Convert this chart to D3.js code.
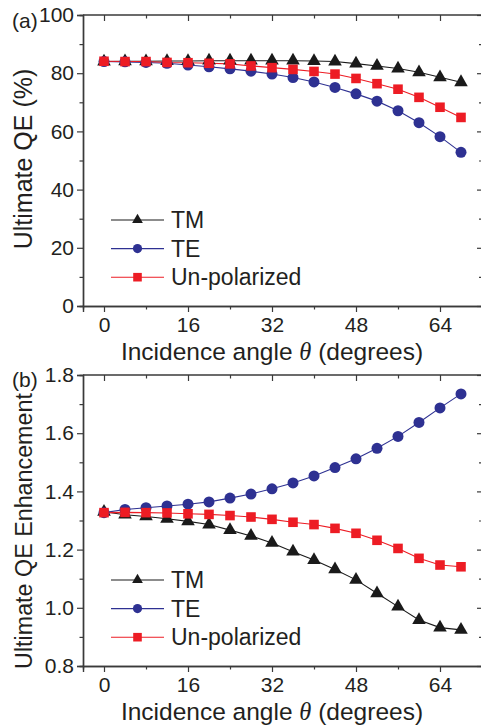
<!DOCTYPE html>
<html><head><meta charset="utf-8">
<script src="https://cdn.jsdelivr.net/npm/d3@7"></script>
<style>
html,body{margin:0;padding:0;background:#fff;}
svg{display:block;}
text{font-family:"Liberation Sans",Arial,sans-serif;fill:#231f20;}
</style></head>
<body>
<svg id="chart" width="481" height="726"></svg>
<script>
const angles = [0,4,8,12,16,20,24,28,32,36,40,44,48,52,56,60,64,68];
const qeTM = [84.0,84.1,84.1,84.2,84.2,84.3,84.3,84.3,84.3,84.3,84.2,84.0,83.3,82.5,81.6,80.3,78.6,76.9];
const qeTE = [84.0,83.9,83.7,83.4,82.8,82.2,81.5,80.7,79.7,78.5,77.0,75.1,72.9,70.4,67.1,63.0,58.2,52.8];
const qeUP = [84.1,84.0,84.0,83.7,83.6,83.4,83.2,82.5,81.9,81.3,80.6,79.7,78.2,76.4,74.5,71.7,68.3,64.8];
const enhTM = [1.330,1.320,1.314,1.306,1.297,1.286,1.267,1.247,1.223,1.193,1.164,1.132,1.096,1.050,1.004,0.958,0.932,0.924];
const enhTE = [1.327,1.338,1.344,1.350,1.356,1.364,1.377,1.391,1.409,1.429,1.453,1.482,1.512,1.548,1.589,1.637,1.687,1.735];
const enhUP = [1.327,1.328,1.327,1.326,1.323,1.321,1.317,1.312,1.304,1.294,1.286,1.273,1.256,1.232,1.204,1.170,1.147,1.141];
const xMajor = [0,16,32,48,64];
const xMinor = [8,24,40,56];
const qeMajor = [0,20,40,60,80,100];
const qeMinor = [10,30,50,70,90];
const enhMajor = [0.8,1.0,1.2,1.4,1.6,1.8];
const enhMinor = [0.9,1.1,1.3,1.5,1.7];
const seriesNames = ["TM","TE","Un-polarized"];
const colors = ["#1a1a1a","#2e3192","#ed1c24"];
const symbols = [d3.symbolTriangle, d3.symbolCircle, d3.symbolSquare];

const svg = d3.select("#chart");
const axisColor = "#3a3a3a";

function panel(opts){
  const {top, bottom, yDomain, yMajor, yMinor, yFmt, series, label, ytitle, labelDy} = opts;
  const x = d3.scaleLinear().domain([-4,72]).range([83,482]);
  const y = d3.scaleLinear().domain(yDomain).range([bottom, top]);
  const g = svg.append("g");

  g.append("line").attr("x1",83).attr("x2",482).attr("y1",top).attr("y2",top)
    .attr("stroke",axisColor).attr("stroke-width",1.4);
  g.append("line").attr("x1",482).attr("x2",482).attr("y1",top).attr("y2",bottom)
    .attr("stroke",axisColor).attr("stroke-width",1.4);

  function styleAxis(sel){
    sel.select(".domain").attr("stroke",axisColor).attr("stroke-width",1.4);
    sel.selectAll(".tick line").attr("stroke",axisColor).attr("stroke-width",1.2);
    sel.selectAll("text").attr("fill","#231f20").style("font-family","'Liberation Sans',Arial,sans-serif");
  }

  const bx = g.append("g").attr("transform",`translate(0,${bottom})`)
    .call(d3.axisBottom(x).tickValues(xMajor).tickSize(6).tickPadding(5).tickFormat(d3.format("d")));
  bx.selectAll("text").attr("font-size",21).attr("dy","0.71em");
  styleAxis(bx);
  const bxm = g.append("g").attr("transform",`translate(0,${bottom})`)
    .call(d3.axisBottom(x).tickValues(xMinor).tickSize(3.5).tickFormat(""));
  styleAxis(bxm);
  const tx = g.append("g").attr("transform",`translate(0,${top})`)
    .call(d3.axisBottom(x).tickValues(xMajor).tickSize(6).tickFormat(""));
  tx.select(".domain").remove(); styleAxis(tx);
  const txm = g.append("g").attr("transform",`translate(0,${top})`)
    .call(d3.axisBottom(x).tickValues(xMinor).tickSize(3.5).tickFormat(""));
  txm.select(".domain").remove(); styleAxis(txm);

  const ly = g.append("g").attr("transform","translate(83,0)")
    .call(d3.axisLeft(y).tickValues(yMajor).tickSize(6).tickPadding(3).tickFormat(yFmt));
  ly.selectAll("text").attr("font-size",21);
  styleAxis(ly);
  const lym = g.append("g").attr("transform","translate(83,0)")
    .call(d3.axisLeft(y).tickValues(yMinor).tickSize(3.5).tickFormat(""));
  styleAxis(lym);
  const ry = g.append("g").attr("transform","translate(482,0)")
    .call(d3.axisLeft(y).tickValues(yMajor).tickSize(5).tickFormat(""));
  ry.select(".domain").remove(); styleAxis(ry);
  const rym = g.append("g").attr("transform","translate(482,0)")
    .call(d3.axisLeft(y).tickValues(yMinor).tickSize(3).tickFormat(""));
  rym.select(".domain").remove(); styleAxis(rym);

  const line = d3.line().x((d,i)=>x(angles[i])).y(d=>y(d));
  series.forEach((vals,k)=>{
    g.append("path").datum(vals).attr("d",line).attr("fill","none")
      .attr("stroke",colors[k]).attr("stroke-width",1.1);
  });
  const sizes = [80, 95, 92];
  series.forEach((vals,k)=>{
    g.append("g").selectAll("path").data(vals).join("path")
      .attr("transform",(d,i)=>`translate(${x(angles[i])},${y(d)})`)
      .attr("d",d3.symbol().type(symbols[k]).size(sizes[k]))
      .attr("fill",colors[k]);
  });

  const legTop = opts.legendY;
  const lsizes = [50, 66, 74];
  seriesNames.forEach((name,k)=>{
    const ly0 = legTop + k*28.6;
    g.append("line").attr("x1",111).attr("x2",164).attr("y1",ly0).attr("y2",ly0)
      .attr("stroke",colors[k]).attr("stroke-width",1.1);
    g.append("path").attr("transform",`translate(137.5,${ly0})`)
      .attr("d",d3.symbol().type(symbols[k]).size(lsizes[k])).attr("fill",colors[k]);
    g.append("text").attr("x",171).attr("y",ly0+8.2).attr("font-size",23).text(name);
  });

  const xt = g.append("text").attr("x",272).attr("y",bottom+54).attr("text-anchor","middle").attr("font-size",24.5);
  xt.append("tspan").text("Incidence angle ");
  xt.append("tspan").style("font-family","'Liberation Serif','Times New Roman',serif").attr("font-style","italic").text("θ");
  xt.append("tspan").text(" (degrees)");

  g.append("text").attr("transform",`translate(32,${opts.ytitleY}) rotate(-90)`)
    .attr("text-anchor","middle").attr("font-size",opts.ytitleSize).text(ytitle);

  g.append("text").attr("x",12).attr("y",top+labelDy).attr("font-size",21).text(label);
}

panel({top:15,bottom:306,yDomain:[0,100],yMajor:qeMajor,yMinor:qeMinor,yFmt:d3.format("d"),
  series:[qeTM,qeTE,qeUP],label:"(a)",ytitle:"Ultimate QE (%)",legendY:220,labelDy:13,ytitleY:159,ytitleSize:25});
panel({top:375,bottom:666,yDomain:[0.8,1.8],yMajor:enhMajor,yMinor:enhMinor,yFmt:d3.format(".1f"),
  series:[enhTM,enhTE,enhUP],label:"(b)",ytitle:"Ultimate QE Enhancement",legendY:580,labelDy:12,ytitleY:531,ytitleSize:23.3});
</script>
</body></html>
